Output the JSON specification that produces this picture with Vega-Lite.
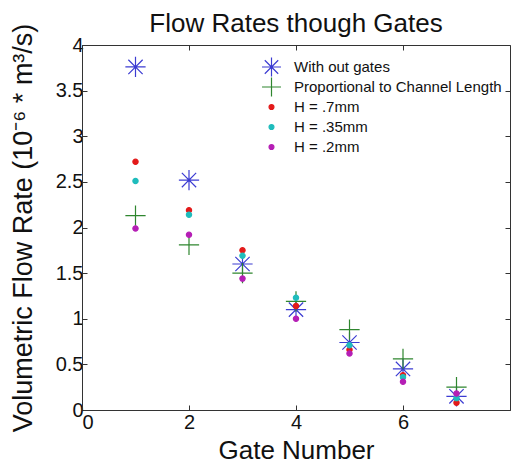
{
  "$schema": "https://vega.github.io/schema/vega-lite/v6.json",
  "width": 428,
  "height": 365,
  "autosize": {"type": "none"},
  "padding": {"left": 82, "top": 45, "right": 2, "bottom": 54},
  "background": "white",
  "title": {"text": "Flow Rates though Gates", "font": "Liberation Sans", "fontSize": 26, "fontWeight": "normal", "color": "#111", "offset": 6, "dy": 20, "anchor": "middle"},
  "config": {
    "view": {"stroke": "#333", "strokeWidth": 1},
    "axis": {"domainColor": "#333", "tickColor": "#333", "grid": false, "labelFont": "Liberation Sans", "labelFontSize": 20, "labelColor": "#111", "titleFont": "Liberation Sans", "titleFontSize": 26, "titleFontWeight": "normal", "titleColor": "#111", "tickSize": -5, "format": "~g"},
    "legend": {"labelFont": "Liberation Sans", "labelFontSize": 15, "labelColor": "#111", "labelLimit": 0, "symbolStrokeWidth": 1.2}
  },
  "data": {"values": [
    {"gate": 1, "series": "With out gates", "rate": 3.76},
    {"gate": 2, "series": "With out gates", "rate": 2.52},
    {"gate": 3, "series": "With out gates", "rate": 1.60},
    {"gate": 4, "series": "With out gates", "rate": 1.10},
    {"gate": 5, "series": "With out gates", "rate": 0.74},
    {"gate": 6, "series": "With out gates", "rate": 0.45},
    {"gate": 7, "series": "With out gates", "rate": 0.15},
    {"gate": 1, "series": "Proportional to Channel Length", "rate": 2.13},
    {"gate": 2, "series": "Proportional to Channel Length", "rate": 1.81},
    {"gate": 3, "series": "Proportional to Channel Length", "rate": 1.50},
    {"gate": 4, "series": "Proportional to Channel Length", "rate": 1.19},
    {"gate": 5, "series": "Proportional to Channel Length", "rate": 0.88},
    {"gate": 6, "series": "Proportional to Channel Length", "rate": 0.56},
    {"gate": 7, "series": "Proportional to Channel Length", "rate": 0.25},
    {"gate": 1, "series": "H = .7mm", "rate": 2.72},
    {"gate": 2, "series": "H = .7mm", "rate": 2.19},
    {"gate": 3, "series": "H = .7mm", "rate": 1.75},
    {"gate": 4, "series": "H = .7mm", "rate": 1.14},
    {"gate": 5, "series": "H = .7mm", "rate": 0.66},
    {"gate": 6, "series": "H = .7mm", "rate": 0.38},
    {"gate": 7, "series": "H = .7mm", "rate": 0.08},
    {"gate": 1, "series": "H = .35mm", "rate": 2.51},
    {"gate": 2, "series": "H = .35mm", "rate": 2.14},
    {"gate": 3, "series": "H = .35mm", "rate": 1.69},
    {"gate": 4, "series": "H = .35mm", "rate": 1.23},
    {"gate": 5, "series": "H = .35mm", "rate": 0.71},
    {"gate": 6, "series": "H = .35mm", "rate": 0.36},
    {"gate": 7, "series": "H = .35mm", "rate": 0.13},
    {"gate": 1, "series": "H = .2mm", "rate": 1.99},
    {"gate": 2, "series": "H = .2mm", "rate": 1.92},
    {"gate": 3, "series": "H = .2mm", "rate": 1.44},
    {"gate": 4, "series": "H = .2mm", "rate": 1.00},
    {"gate": 5, "series": "H = .2mm", "rate": 0.62},
    {"gate": 6, "series": "H = .2mm", "rate": 0.31},
    {"gate": 7, "series": "H = .2mm", "rate": 0.18}
  ]},
  "layer": [
    {
      "mark": {"type": "point", "opacity": 0},
      "encoding": {
        "x": {"field": "gate", "type": "quantitative", "scale": {"domain": [0, 8], "nice": false, "zero": false}, "axis": {"orient": "top", "labels": false, "title": null, "values": [0, 2, 4, 6], "domain": false}},
        "y": {"field": "rate", "type": "quantitative", "scale": {"domain": [0, 4], "nice": false}, "axis": {"orient": "right", "labels": false, "title": null, "values": [0, 0.5, 1, 1.5, 2, 2.5, 3, 3.5, 4], "domain": false}}
      }
    },
    {
      "mark": {"type": "point", "filled": true, "opacity": 1, "strokeWidth": 1.2, "size": 410},
      "encoding": {
        "x": {"field": "gate", "type": "quantitative", "axis": {"orient": "bottom", "title": "Gate Number", "values": [0, 2, 4, 6], "titlePadding": 5, "labelPadding": 7}},
        "y": {"field": "rate", "type": "quantitative", "axis": {"orient": "left", "title": "Volumetric Flow Rate (10⁻⁶ * m³/s)", "titleFontSize": 27, "values": [0, 0.5, 1, 1.5, 2, 2.5, 3, 3.5, 4], "titlePadding": 18, "labelPadding": 4}},
        "color": {"field": "series", "type": "nominal", "scale": {"domain": ["With out gates", "Proportional to Channel Length", "H = .7mm", "H = .35mm", "H = .2mm"], "range": ["rgba(0,0,0,0)", "rgba(0,0,0,0)", "#e31a1a", "#1fbcbc", "#b51eb5"]},
          "legend": {"title": null, "orient": "none", "legendX": 179, "legendY": 12, "rowPadding": 0, "clipHeight": 20, "symbolSize": 360, "labelOffset": 12}},
        "stroke": {"field": "series", "type": "nominal", "scale": {"domain": ["With out gates", "Proportional to Channel Length", "H = .7mm", "H = .35mm", "H = .2mm"], "range": ["#3c3cd2", "#2f862f", "#e31a1a", "#1fbcbc", "#b51eb5"]},
          "legend": {"title": null, "orient": "none", "legendX": 179, "legendY": 12, "rowPadding": 0, "clipHeight": 20, "symbolSize": 360, "labelOffset": 12}},
        "shape": {"field": "series", "type": "nominal", "scale": {"domain": ["With out gates", "Proportional to Channel Length", "H = .7mm", "H = .35mm", "H = .2mm"], "range": ["M-1,0L1,0M0,-1L0,1M-0.7071,-0.7071L0.7071,0.7071M-0.7071,0.7071L0.7071,-0.7071", "M-1,0L1,0M0,-1L0,1", "M-0.26,0A0.26,0.26 0 1,0 0.26,0A0.26,0.26 0 1,0 -0.26,0Z", "M-0.26,0A0.26,0.26 0 1,0 0.26,0A0.26,0.26 0 1,0 -0.26,0Z", "M-0.26,0A0.26,0.26 0 1,0 0.26,0A0.26,0.26 0 1,0 -0.26,0Z"]},
          "legend": {"title": null, "orient": "none", "legendX": 179, "legendY": 12, "rowPadding": 0, "clipHeight": 20, "symbolSize": 360, "labelOffset": 12}}
      }
    }
  ]
}
